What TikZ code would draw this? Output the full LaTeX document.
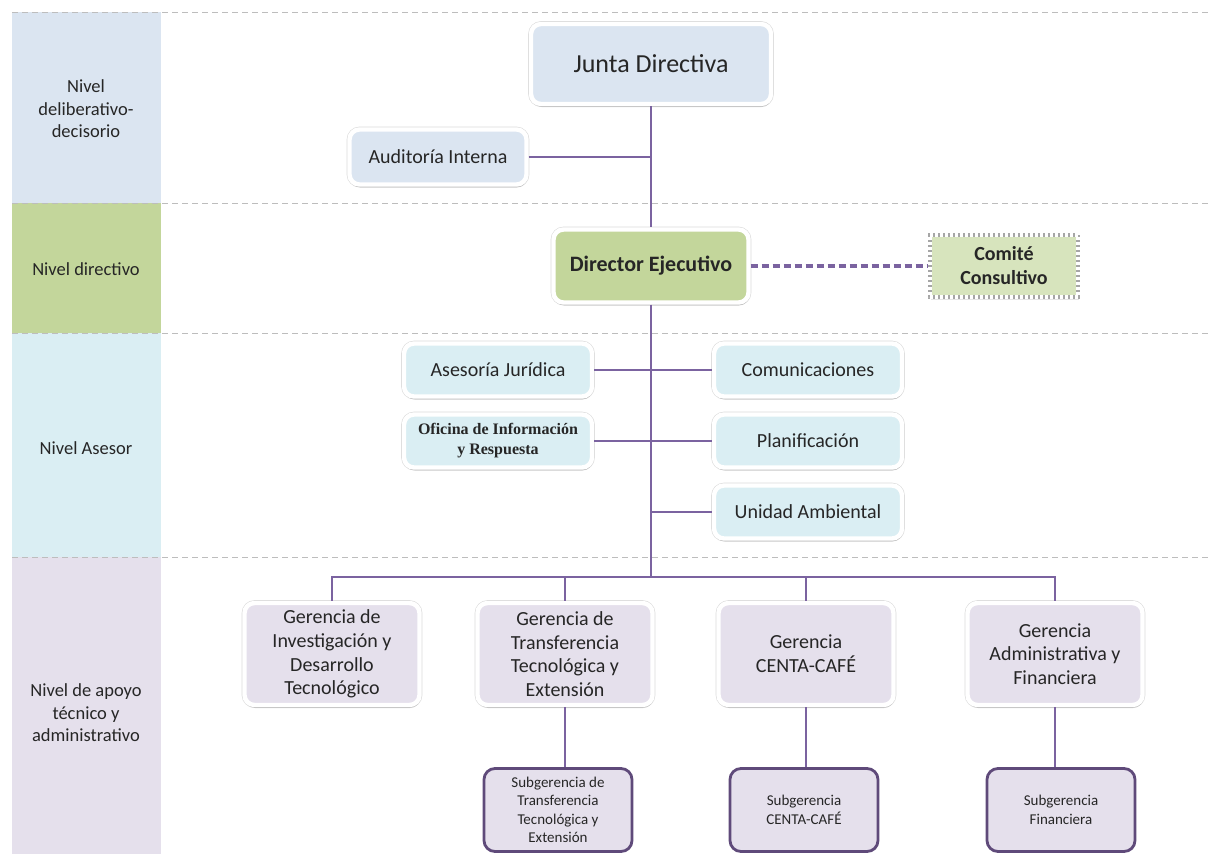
\documentclass[tikz,border=0pt]{standalone}
\usepackage{fontspec}
\setmainfont{Carlito}
\newfontfamily\officefont{Liberation Serif}
\usetikzlibrary{shadows}

% level colours
\definecolor{lvlA}{HTML}{DBE5F1}
\definecolor{lvlB}{HTML}{C3D69B}
\definecolor{lvlC}{HTML}{DAEEF3}
\definecolor{lvlD}{HTML}{E5E0EC}
\definecolor{comitefill}{HTML}{D7E4BD}
\definecolor{linkcol}{HTML}{7B63A0}
\definecolor{subedge}{HTML}{5F4A7A}
\definecolor{sepcol}{HTML}{BDBDBD}
\definecolor{txt}{HTML}{262626}

\tikzset{
  box/.style={rounded corners=10pt,
    preaction={draw=black!14, line width=5.6pt},
    draw=white, line width=4.4pt,
    drop shadow={opacity=0.3, shadow xshift=0.6pt, shadow yshift=-3pt, fill=black!50},
    align=center, text=txt, inner sep=2pt},
  subbox/.style={rounded corners=11pt, draw=subedge, line width=2.8pt, fill=lvlD,
    align=center, text=txt, inner sep=2pt,
    minimum width=148pt, minimum height=83pt,
    font=\fontsize{15}{18.5}\selectfont},
  gerbox/.style={box, fill=lvlD, minimum width=175pt, minimum height=102pt,
    font=\fontsize{20}{23.7}\selectfont},
  asebox/.style={box, fill=lvlC, minimum width=188pt, minimum height=53pt,
    font=\fontsize{20}{24}\selectfont},
  stampbox/.style={fill=comitefill, draw=black!35, line width=3.2pt,
    postaction={draw=white, line width=3.2pt, dash pattern=on 3pt off 2pt},
    drop shadow={opacity=0.25, shadow xshift=0.5pt, shadow yshift=-2.5pt, fill=black!40},
    align=center, text=txt, inner sep=2pt,
    font=\bfseries\fontsize{20}{24}\selectfont},
  lvllabel/.style={align=center, text=txt, font=\fontsize{18.5}{22.5}\selectfont},
  link/.style={draw=linkcol, line width=2.8pt},
  dashlink/.style={draw=linkcol, line width=3.4pt, dash pattern=on 7pt off 4pt},
  sep/.style={draw=sepcol, line width=1pt, dash pattern=on 6pt off 4pt}
}

\begin{document}
\begin{tikzpicture}[x=1pt,y=-1pt]
\useasboundingbox (0,0) rectangle (1209,854);
\fill[white] (0,0) rectangle (1209,854);

% level column
\fill[lvlA] (12,12) rectangle (161,203);
\fill[lvlB] (12,203) rectangle (161,333);
\fill[lvlC] (12,333) rectangle (161,557);
\fill[lvlD] (12,557) rectangle (161,854);

% level separators
\foreach \yy in {12,203,333,557}
  \draw[sep] (12,\yy) -- (1209,\yy);

% level names
\node[lvllabel] (lv1) at (86,109) {Nivel\\deliberativo-\\decisorio};
\node[lvllabel] (lv2) at (86,269) {Nivel directivo};
\node[lvllabel] (lv3) at (86,448) {Nivel Asesor};
\node[lvllabel] (lv4) at (86,713) {Nivel de apoyo\\técnico y\\administrativo};

% trunk positions
\coordinate (bus) at (651,577);
\coordinate (juntaC) at (651,64);
\coordinate (dirC) at (651,266);

% governing level
\node[box, fill=lvlA, minimum width=240pt, minimum height=80pt,
      font=\fontsize{26}{30}\selectfont] (junta) at (juntaC) {Junta Directiva};
\node[box, fill=lvlA, minimum width=177pt, minimum height=55pt,
      font=\fontsize{20}{24}\selectfont] (audit) at (438,157) {Auditoría Interna};

% executive level
\node[box, fill=lvlB, minimum width=195pt, minimum height=73pt,
      font=\bfseries\fontsize{22}{26}\selectfont] (director) at (dirC) {Director Ejecutivo};
\node[stampbox, minimum width=148pt, minimum height=62pt] (comite) at (1004,266) {Comité\\Consultivo};

% advisory level
\node[asebox] (asesoria) at (498,370) {Asesoría Jurídica};
\node[asebox] (comunic) at (808,370) {Comunicaciones};
\node[asebox, font=\officefont\bfseries\fontsize{16}{20}\selectfont] (oficina) at (498,441) {Oficina de Información\\y Respuesta};
\node[asebox] (planif) at (808,441) {Planificación};
\node[asebox] (unidad) at (808,512) {Unidad Ambiental};

% technical and administrative level
\node[gerbox] (ger1) at (332,654) {Gerencia de\\Investigación y\\Desarrollo\\Tecnológico};
\node[gerbox] (ger2) at (565,654) {Gerencia de\\Transferencia\\Tecnológica y\\Extensión};
\node[gerbox] (ger3) at (806,654) {Gerencia\\CENTA-CAFÉ};
\node[gerbox] (ger4) at (1055,654) {Gerencia\\Administrativa y\\Financiera};

\node[subbox] (sub2) at (558,810) {Subgerencia de\\Transferencia\\Tecnológica y\\Extensión};
\node[subbox] (sub3) at (804,810) {Subgerencia\\CENTA-CAFÉ};
\node[subbox] (sub4) at (1061,810) {Subgerencia\\Financiera};

% connectors
\draw[link] (junta.south) -- (director.north);
\draw[link] (audit.east) -- (audit.east -| junta.south);
\draw[link] (director.south) -- (bus);
\draw[link] (asesoria.east) -- (comunic.west);
\draw[link] (oficina.east) -- (planif.west);
\draw[link] (unidad.west) -- (unidad.west -| bus);
\draw[link] (ger1.north) -- (ger1.north |- bus) -- (ger4.north |- bus) -- (ger4.north);
\draw[link] (ger2.north) -- (ger2.north |- bus);
\draw[link] (ger3.north) -- (ger3.north |- bus);
\draw[link] (ger2.south) -- (ger2.south |- sub2.north);
\draw[link] (ger3.south) -- (ger3.south |- sub3.north);
\draw[link] (ger4.south) -- (ger4.south |- sub4.north);
\draw[dashlink] (director.east) -- (comite.west);
\end{tikzpicture}
\end{document}
